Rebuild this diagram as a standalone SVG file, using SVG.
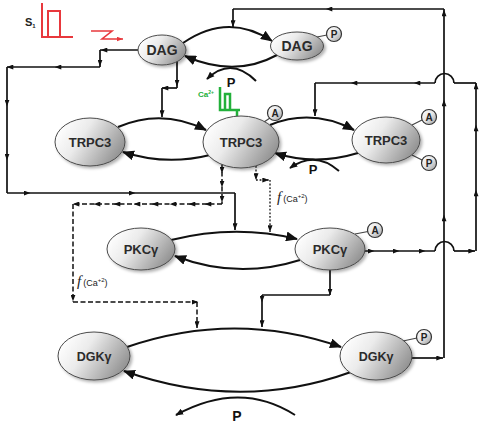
<svg xmlns="http://www.w3.org/2000/svg" width="484" height="424" viewBox="0 0 484 424">
<defs>
<linearGradient id="g" x1="0" y1="0.3" x2="1" y2="0.75">
<stop offset="0" stop-color="#ffffff"/>
<stop offset="0.35" stop-color="#ebebeb"/>
<stop offset="1" stop-color="#8a8a8a"/>
</linearGradient>
<linearGradient id="gc" x1="0" y1="0" x2="1" y2="1">
<stop offset="0" stop-color="#ffffff"/>
<stop offset="0.5" stop-color="#e6e6e6"/>
<stop offset="1" stop-color="#9a9a9a"/>
</linearGradient>
<filter id="sh" x="-20%" y="-20%" width="150%" height="160%">
<feDropShadow dx="2" dy="2" stdDeviation="1.5" flood-color="#000" flood-opacity="0.3"/>
</filter>
<marker id="m" viewBox="0 0 8 6" refX="4" refY="3" markerWidth="7" markerHeight="5" markerUnits="userSpaceOnUse" orient="auto"><path d="M0,0L8,3L0,6z" fill="#111"/></marker>
<marker id="e" viewBox="0 0 8 6" refX="8" refY="3" markerWidth="7" markerHeight="5" markerUnits="userSpaceOnUse" orient="auto"><path d="M0,0L8,3L0,6z" fill="#111"/></marker>
<marker id="b" viewBox="0 0 12 10" refX="11" refY="5" markerWidth="12" markerHeight="10" markerUnits="userSpaceOnUse" orient="auto"><path d="M0,0L12,5L0,10z" fill="#111"/></marker>
<marker id="p" viewBox="0 0 10 8" refX="9" refY="4" markerWidth="8" markerHeight="7" markerUnits="userSpaceOnUse" orient="auto"><path d="M0,0L10,4L0,8z" fill="#111"/></marker>
<marker id="r" viewBox="0 0 8 6" refX="8" refY="3" markerWidth="6" markerHeight="5" markerUnits="userSpaceOnUse" orient="auto"><path d="M0,0L8,3L0,6z" fill="#e8383d"/></marker>
</defs>
<style>
.n{fill:url(#g);stroke:#4a4a4a;stroke-width:1;filter:url(#sh)}
.t{font-family:"Liberation Sans",Arial,sans-serif;font-weight:bold;fill:#2b2b2b;text-anchor:middle}
.c{fill:url(#gc);stroke:#333;stroke-width:1.2}
.ct{font-family:"Liberation Sans",Arial,sans-serif;font-weight:bold;font-size:10px;fill:#222;text-anchor:middle}
.st{stroke:#444;stroke-width:1.2}
.l{fill:none;stroke:#111;stroke-width:1.7}
.d{fill:none;stroke:#111;stroke-width:1.5;stroke-dasharray:5 2.5}
.o{fill:none;stroke:#111;stroke-width:1.3;stroke-dasharray:1.8 1.8}
.a{fill:none;stroke:#111;stroke-width:2}
.lab{font-family:"Liberation Sans",Arial,sans-serif;font-weight:bold;fill:#111;text-anchor:middle}
.f{font-family:"Liberation Sans",Arial,sans-serif;fill:#222}
</style>

<g id="connectors">
<path class="l" d="M138,50 H104 H100" marker-mid="url(#m)"/>
<path class="l" d="M100,50 V63 V67" marker-mid="url(#m)"/>
<path class="l" d="M100,67 H58 H10 H7" marker-mid="url(#m)"/>
<path class="l" d="M7,67 V103 V157 V193" marker-mid="url(#m)"/>
<path class="l" d="M7,193 H27 H132 H235" marker-mid="url(#m)"/>
<path class="l" d="M235,193 V230" marker-end="url(#e)"/>

<path class="l" d="M177,61 V83 V88" marker-mid="url(#m)"/>
<path class="l" d="M177,88 H165 H162" marker-mid="url(#m)"/>
<path class="l" d="M162,88 V117" marker-end="url(#e)"/>

<path class="l" d="M412,358 H443" marker-end="url(#e)"/>
<path class="l" d="M444,358 V218 V103 V13 V9" marker-mid="url(#m)"/>
<path class="l" d="M444,9 H329 H233" marker-mid="url(#m)"/>
<path class="l" d="M233,9 V27" marker-end="url(#e)"/>

<path class="l" d="M365,251 H371 H396 H422 H435" marker-mid="url(#m)"/>
<path class="l" d="M435,251 A9.5,9.5 0 0 1 454,251"/>
<path class="l" d="M454,251 H475" marker-end="url(#e)"/>
<path class="l" d="M476,251 V193 V128 V86 V83" marker-mid="url(#m)"/>
<path class="l" d="M476,83 H454"/>
<path class="l" d="M454,83 A9.5,9.5 0 0 0 435,83"/>
<path class="l" d="M435,83 H417 H354 H315" marker-mid="url(#m)"/>
<path class="l" d="M315,83 V116" marker-end="url(#e)"/>

<path class="d" d="M222,164 V170 V184 V199 V204" marker-mid="url(#m)"/>
<path class="d" d="M222,204 H208 H192 H173 H155 H137 H117 H97 H76 H73" marker-mid="url(#m)"/>
<path class="d" d="M73,204 V298 V302" marker-mid="url(#m)"/>
<path class="d" d="M73,302 H195 H197" marker-mid="url(#m)"/>
<path class="d" d="M197,302 V328" marker-end="url(#e)"/>

<path class="o" d="M256,166 V180" marker-end="url(#e)"/>
<path class="o" d="M256,180 H269" marker-end="url(#e)"/>
<path class="o" d="M270,180 V232" marker-end="url(#e)"/>

<path class="l" d="M330,270 V292 V295" marker-mid="url(#m)"/>
<path class="l" d="M330,295 H262"/>
<path class="l" d="M262,295 V299 V327" marker-mid="url(#m)" marker-end="url(#e)"/>

<path class="a" d="M183,43 Q228,12 272,41" marker-end="url(#b)"/>
<path class="a" d="M277,55 Q235,78 185,56" marker-end="url(#b)"/>
<path class="a" d="M256,81 Q231,56 207,79" marker-end="url(#p)"/>

<path class="a" d="M118,127 Q162,108 206,130" marker-end="url(#b)"/>
<path class="a" d="M210,155 Q166,166 123,152" marker-end="url(#b)"/>
<path class="a" d="M270,125 Q312,108 354,130" marker-end="url(#b)"/>
<path class="a" d="M358,153 Q315,166 275,153" marker-end="url(#b)"/>
<path class="a" d="M339,171 Q315,150 290,168" marker-end="url(#p)"/>

<path class="a" d="M171,240 Q235,224 297,239" marker-end="url(#b)"/>
<path class="a" d="M300,260 Q237,280 175,256" marker-end="url(#b)"/>

<path class="a" d="M127,347 Q235,310 341,347" marker-end="url(#b)"/>
<path class="a" d="M351,372 Q240,412 124,371" marker-end="url(#b)"/>
<path class="a" d="M295,415 Q240,380 176,415" marker-end="url(#p)"/>
</g>

<g id="labels">
<text class="lab" x="231" y="87" font-size="13">P</text>
<text class="lab" x="313" y="174" font-size="13">P</text>
<text class="lab" x="237" y="421" font-size="14">P</text>
<text class="f" x="277" y="202"><tspan font-family="Liberation Serif" font-style="italic" font-size="15">f</tspan><tspan font-size="9" dx="2">(Ca</tspan><tspan font-size="6" dy="-4">+2</tspan><tspan font-size="9" dy="4">)</tspan></text>
<text class="f" x="77" y="286"><tspan font-family="Liberation Serif" font-style="italic" font-size="15">f</tspan><tspan font-size="9" dx="2">(Ca</tspan><tspan font-size="6" dy="-4">+2</tspan><tspan font-size="9" dy="4">)</tspan></text>
</g>

<g id="stimulus-s1">
<text x="25" y="26" font-family="Liberation Sans, Arial, sans-serif" font-weight="bold" font-size="11" fill="#222">S<tspan font-size="6" dy="2">1</tspan></text>
<path d="M42,3 V37 H73 M48,37 V11 H60 V37" fill="none" stroke="#e8383d" stroke-width="2"/>
<path d="M91,31 H112 L102,39 H123" fill="none" stroke="#e8383d" stroke-width="1.6" marker-end="url(#r)"/>
</g>

<g id="stimulus-ca">
<text x="198" y="97" font-family="Liberation Sans, Arial, sans-serif" font-weight="bold" font-size="8" fill="#22b03a">Ca<tspan font-size="5" dy="-3">2+</tspan></text>
<path d="M220,87 V110 H240 M225,110 V94 H230 V110 M237,110 V116" fill="none" stroke="#22b03a" stroke-width="2.5"/>
</g>

<g id="dag-left">
<ellipse class="n" cx="162" cy="50" rx="24" ry="15"/>
<text class="t" x="162" y="55" font-size="14">DAG</text>
</g>
<g id="dag-right">
<line class="st" x1="317" y1="37" x2="327" y2="35"/>
<ellipse class="n" cx="297" cy="46" rx="26.5" ry="14"/>
<text class="t" x="297" y="51" font-size="14">DAG</text>
<circle class="c" cx="334" cy="34" r="7.5"/>
<text class="ct" x="334" y="38">P</text>
</g>
<g id="trpc3-left">
<ellipse class="n" cx="90" cy="142" rx="35" ry="24"/>
<text class="t" x="90" y="147" font-size="13">TRPC3</text>
</g>
<g id="trpc3-center">
<line class="st" x1="264" y1="122" x2="270" y2="118"/>
<ellipse class="n" cx="241" cy="142" rx="38" ry="26"/>
<text class="t" x="241" y="147" font-size="13">TRPC3</text>
<circle class="c" cx="275" cy="113" r="7.5"/>
<text class="ct" x="275" y="117">A</text>
</g>
<g id="trpc3-right">
<line class="st" x1="412" y1="125" x2="422" y2="120"/>
<line class="st" x1="412" y1="155" x2="422" y2="160"/>
<ellipse class="n" cx="386" cy="140" rx="34" ry="23"/>
<text class="t" x="386" y="145" font-size="13">TRPC3</text>
<circle class="c" cx="429" cy="117" r="7.5"/>
<text class="ct" x="429" y="121">A</text>
<circle class="c" cx="429" cy="163" r="7.5"/>
<text class="ct" x="429" y="167">P</text>
</g>
<g id="pkc-left">
<ellipse class="n" cx="141" cy="249" rx="34" ry="21"/>
<text class="t" x="141" y="254" font-size="13">PKCγ</text>
</g>
<g id="pkc-right">
<line class="st" x1="355" y1="234" x2="368" y2="231.5"/>
<ellipse class="n" cx="330" cy="249" rx="35" ry="21"/>
<text class="t" x="330" y="254" font-size="13">PKCγ</text>
<circle class="c" cx="375" cy="230" r="7.5"/>
<text class="ct" x="375" y="234">A</text>
</g>
<g id="dgk-left">
<ellipse class="n" cx="94" cy="356" rx="36" ry="24"/>
<text class="t" x="94" y="361" font-size="12.5">DGKγ</text>
</g>
<g id="dgk-right">
<line class="st" x1="403" y1="341" x2="417" y2="338"/>
<ellipse class="n" cx="376" cy="356" rx="36" ry="24"/>
<text class="t" x="376" y="361" font-size="12.5">DGKγ</text>
<circle class="c" cx="424" cy="337" r="7.5"/>
<text class="ct" x="424" y="341">P</text>
</g>
</svg>
